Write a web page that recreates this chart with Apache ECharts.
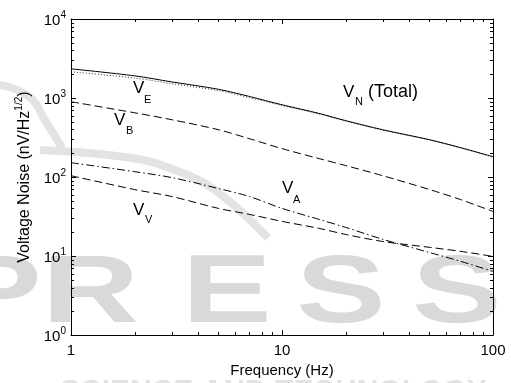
<!DOCTYPE html>
<html><head><meta charset="utf-8">
<script src="https://cdn.jsdelivr.net/npm/echarts@6/dist/echarts.min.js"></script>
<style>html,body{margin:0;padding:0;background:#fff}#c{width:511px;height:383px}</style>
</head><body><div id="c"></div>
<script>
// ---- data ----
const freq = [1, 2, 3, 5, 7, 10, 15, 20, 30, 50, 70, 100];
const vN = [2340, 1910, 1600, 1290, 1047, 822, 638, 518, 397, 297, 236, 181];
const vE = [2150, 1790, 1520, 1240, 1010, 805, 628, 511, 392, 294, 234, 179];
const vB = [897, 651, 532, 397, 306, 229, 171, 140, 104, 69.5, 52, 36.7];
const vA = [152, 117, 98.6, 71.6, 56.8, 40.1, 29.1, 23.1, 16.3, 11.1, 8.6, 6.4];
const vV = [104, 69.5, 56.8, 40.1, 33.7, 27.5, 22.4, 18.8, 15.3, 12.9, 11.5, 9.9];
const xTickLabels = ['1', '10', '100'];
const yTickExps = ['0', '1', '2', '3', '4'];
const xMinorTicks = [2, 3, 4, 5, 6, 7, 8, 9, 20, 30, 40, 50, 60, 70, 80, 90];
const yMinorTicks = [2, 3, 4, 5, 6, 7, 8, 9, 20, 30, 40, 50, 60, 70, 80, 90,
  200, 300, 400, 500, 600, 700, 800, 900, 2000, 3000, 4000, 5000, 6000, 7000, 8000, 9000];
const X_MIN = 1, X_MAX = 100, Y_MIN = 1, Y_MAX = 10000;

const FONT = 'Liberation Sans, Arial, sans-serif';
const chart = echarts.init(document.getElementById('c'), null, {renderer: 'canvas'});

function xLabel(v) {
  const i = Math.round(Math.log10(v));
  return xTickLabels[i] !== undefined ? xTickLabels[i] : '';
}
function yLabel(v) {
  const i = Math.round(Math.log10(v));
  return '{b|10}{s|' + yTickExps[i] + '}';
}
function zip(xs, ys) { return xs.map((x, i) => [x, ys[i]]); }

const gray = '#d9d9d9';
const wm = [];
// watermark (background decoration)
[['P', -48], ['R', 42], ['E', 182], ['S', 296], ['S', 412]].forEach(([ch, x]) => {
  wm.push({type: 'text', z: -10, x: x, y: 248, scaleX: 1.4, silent: true,
    style: {text: ch, font: 'bold 96px ' + FONT, fill: gray}});
});
wm.push({type: 'text', z: -10, left: 60, top: 377, silent: true,
  style: {text: 'SCIENCE AND TECHNOLOGY', font: 'bold 30px ' + FONT, fill: '#e2e2e2'}});
wm.push({type: 'polyline', z: -10, silent: true, shape: {smooth: 0.5,
  points: [[-5, 84], [28, 96], [46, 122], [62, 148]]},
  style: {stroke: '#e3e3e3', lineWidth: 8, fill: null}});
wm.push({type: 'polyline', z: -10, silent: true, shape: {smooth: 0.4,
  points: [[40, 150], [132, 158], [175, 170], [215, 190], [268, 238]]},
  style: {stroke: '#e3e3e3', lineWidth: 8, fill: null}});

function lbl(main, sub, x, y, x2, y2) {
  return [
    {type: 'text', left: x, top: y, z: 100, style: {text: main, font: '17px ' + FONT, fill: '#000'}},
    {type: 'text', left: x2, top: y2, z: 100, style: {text: sub, font: '11px ' + FONT, fill: '#000'}}
  ];
}
const labels = [].concat(
  lbl('V', 'E', 133, 80, 144, 94),
  lbl('V', 'B', 114, 112, 126, 125),
  lbl('V', 'N', 343, 84, 355, 96),
  lbl('V', 'A', 282, 180, 293, 194),
  lbl('V', 'V', 133, 202, 145, 214),
  [{type: 'text', left: 368, top: 83, z: 100, style: {text: '(Total)', font: '18px ' + FONT, fill: '#000'}}]
);

const tickStyle = {stroke: '#000', lineWidth: 1};
const option = {
  animation: false,
  backgroundColor: '#fff',
  grid: {left: 71, right: 18, top: 19, bottom: 47, containLabel: false},
  graphic: wm.concat(labels),
  xAxis: [{
    type: 'log', logBase: 10, min: X_MIN, max: X_MAX,
    axisLine: {show: true, lineStyle: {color: '#000', width: 1}},
    axisTick: {show: true, inside: true, length: 5, lineStyle: {color: '#000'}},
    splitLine: {show: false},
    axisLabel: {formatter: xLabel, color: '#000', fontSize: 15, fontFamily: FONT, margin: 8},
    name: 'Frequency (Hz)', nameLocation: 'middle', nameGap: 26,
    nameTextStyle: {color: '#000', fontSize: 15, fontFamily: FONT}
  }, {
    type: 'log', logBase: 10, min: X_MIN, max: X_MAX, position: 'top',
    axisLine: {show: true, lineStyle: {color: '#000', width: 1}},
    axisTick: {show: true, inside: true, length: 5, lineStyle: {color: '#000'}},
    axisLabel: {show: false}, splitLine: {show: false}
  }],
  yAxis: [{
    type: 'log', logBase: 10, min: Y_MIN, max: Y_MAX,
    axisLine: {show: true, lineStyle: {color: '#000', width: 1}},
    axisTick: {show: true, inside: true, length: 5, lineStyle: {color: '#000'}},
    splitLine: {show: false},
    axisLabel: {formatter: yLabel, margin: 5, color: '#000', fontFamily: FONT,
      rich: {b: {fontSize: 15, fontFamily: FONT, color: '#000', verticalAlign: 'bottom', lineHeight: 18},
             s: {fontSize: 10, fontFamily: FONT, color: '#000', verticalAlign: 'top', lineHeight: 10}}},
    name: '{t|Voltage Noise (nV/Hz}{s|1/2}{t|)}', nameLocation: 'middle', nameGap: 35,
    nameTextStyle: {rich: {t: {fontSize: 16, fontFamily: FONT, color: '#000', verticalAlign: 'bottom', lineHeight: 19},
                           s: {fontSize: 10, fontFamily: FONT, color: '#000', verticalAlign: 'top', lineHeight: 10}}}
  }, {
    type: 'log', logBase: 10, min: Y_MIN, max: Y_MAX, position: 'right',
    axisLine: {show: true, lineStyle: {color: '#000', width: 1}},
    axisTick: {show: true, inside: true, length: 5, lineStyle: {color: '#000'}},
    axisLabel: {show: false}, splitLine: {show: false}
  }],
  series: [
    {type: 'line', name: 'VN', data: zip(freq, vN), showSymbol: false, smooth: 0.3,
      lineStyle: {color: '#000', width: 1, type: 'solid'}, z: 5},
    {type: 'line', name: 'VE', data: zip(freq, vE), showSymbol: false, smooth: 0.3,
      lineStyle: {color: '#333', width: 1, type: [1, 2]}, z: 4},
    {type: 'line', name: 'VB', data: zip(freq, vB), showSymbol: false, smooth: 0.3,
      lineStyle: {color: '#000', width: 1, type: [8, 4]}},
    {type: 'line', name: 'VA', data: zip(freq, vA), showSymbol: false, smooth: 0.3,
      lineStyle: {color: '#000', width: 1, type: [8, 3, 1.5, 3]}},
    {type: 'line', name: 'VV', data: zip(freq, vV), showSymbol: false, smooth: 0.3,
      lineStyle: {color: '#000', width: 1, type: [8, 4]}},
    {type: 'custom', name: 'xminor', silent: true, clip: false, z: 6,
      data: xMinorTicks.map(v => [v, Y_MIN]),
      renderItem: function (params, api) {
        const v = api.value(0);
        const b = api.coord([v, Y_MIN]);
        const t = api.coord([v, Y_MAX]);
        const x = Math.round(b[0]) + 0.5;
        return {type: 'group', children: [
          {type: 'line', shape: {x1: x, y1: b[1], x2: x, y2: b[1] - 3}, style: tickStyle},
          {type: 'line', shape: {x1: x, y1: t[1], x2: x, y2: t[1] + 3}, style: tickStyle}
        ]};
      }},
    {type: 'custom', name: 'yminor', silent: true, clip: false, z: 6,
      data: yMinorTicks.map(v => [X_MIN, v]),
      renderItem: function (params, api) {
        const v = api.value(1);
        const l = api.coord([X_MIN, v]);
        const r = api.coord([X_MAX, v]);
        const y = Math.round(l[1]) + 0.5;
        return {type: 'group', children: [
          {type: 'line', shape: {x1: l[0], y1: y, x2: l[0] + 3, y2: y}, style: tickStyle},
          {type: 'line', shape: {x1: r[0], y1: y, x2: r[0] - 3, y2: y}, style: tickStyle}
        ]};
      }}
  ]
};
chart.setOption(option);
</script></body></html>
